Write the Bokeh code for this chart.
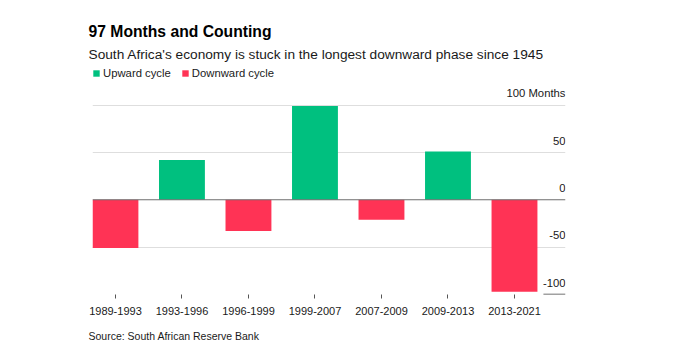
from bokeh.plotting import figure
from bokeh.models import Range1d, FixedTicker, Span, Legend, LegendItem, Title, ColumnDataSource
from bokeh.core.properties import value
from bokeh.embed import file_html
from bokeh.resources import INLINE

# ---- data ----
periods = ["1989-1993", "1993-1996", "1996-1999", "1999-2007", "2007-2009", "2009-2013", "2013-2021"]
months = [-51, 42, -33, 99, -21, 51, -97]
y_ticks = [-100, -50, 0, 50, 100]
y_tick_labels = ["-100", "-50", "0", "50", "100 Months"]

title_text = "97 Months and Counting"
subtitle_text = "South Africa's economy is stuck in the longest downward phase since 1945"
source_text = "Source: South African Reserve Bank"

# ---- style ----
GREEN = "#00c07f"
RED = "#ff3355"
FONT = "Liberation Sans"
TXT = "#1a1a1a"
BAR_W = 0.69
X_START = -BAR_W / 2
X_END = 6.767
Y_END = 139.6
LABEL_LIFT = 12.3   # data units the right-hand labels sit above their gridline

idx = list(range(len(periods)))
up_src = ColumnDataSource(dict(x=[i for i in idx if months[i] > 0],
                               top=[m for m in months if m > 0]))
down_src = ColumnDataSource(dict(x=[i for i in idx if months[i] < 0],
                                 top=[m for m in months if m < 0]))

p = figure(frame_width=473, frame_height=227,
           min_border_left=92, min_border_right=107, min_border_top=67, min_border_bottom=61,
           x_range=Range1d(X_START, X_END), y_range=Range1d(y_ticks[0], Y_END),
           output_backend="svg", toolbar_location=None, title=None)
p.outline_line_color = None
p.background_fill_color = "white"
p.border_fill_color = "white"

r_up = p.vbar(x="x", top="top", bottom=0, width=BAR_W, source=up_src,
              fill_color=GREEN, line_color=None)
r_down = p.vbar(x="x", top="top", bottom=0, width=BAR_W, source=down_src,
                fill_color=RED, line_color=None)

# grid
p.xgrid.visible = False
p.ygrid.ticker = FixedTicker(ticks=[t for t in y_ticks if t not in (0, -100)])
p.ygrid.grid_line_color = "#dedede"
p.ygrid.grid_line_width = 1
p.yaxis.visible = False

# zero line
p.add_layout(Span(location=0, dimension="width", line_color="#6e6e6e", line_width=1))
# short baseline segment at the bottom right
p.segment(x0=[idx[-1] + BAR_W / 2 + 0.09], x1=[X_END], y0=[y_ticks[0]], y1=[y_ticks[0]],
          line_color="#444444", line_width=1.5)

# right-side labels sitting above gridlines
p.text(x=[X_END] * len(y_ticks), y=[t + LABEL_LIFT for t in y_ticks], text=y_tick_labels,
       text_align="right", text_baseline="alphabetic",
       text_font=value(FONT), text_font_size="11.3px", text_color=TXT)

# x axis
p.xaxis.ticker = FixedTicker(ticks=idx)
p.xaxis.major_label_overrides = {i: lab for i, lab in zip(idx, periods)}
p.xaxis.axis_line_color = None
p.xaxis.minor_tick_line_color = None
p.xaxis.major_tick_in = 0
p.xaxis.major_tick_out = 4
p.xaxis.major_tick_line_color = "#555555"
p.xaxis.major_label_standoff = 8
p.xaxis.major_label_text_font = FONT
p.xaxis.major_label_text_font_size = "11px"
p.xaxis.major_label_text_color = TXT

# legend inside the top of the frame
legend = Legend(items=[LegendItem(label="Upward cycle", renderers=[r_up]),
                       LegendItem(label="Downward cycle", renderers=[r_down])],
                orientation="horizontal", location="top_left",
                margin=0, padding=0, spacing=10, glyph_width=8, glyph_height=8,
                label_height=8,
                label_standoff=3, label_text_font=FONT, label_text_font_size="11.3px",
                label_text_color=TXT, border_line_alpha=0, background_fill_alpha=0)
p.add_layout(legend)

p.add_layout(Title(text=subtitle_text, align="left", offset=-4, standoff=11,
                   text_font=FONT, text_font_size="13.7px", text_font_style="normal",
                   text_color=TXT), "above")
p.add_layout(Title(text=title_text, align="left", offset=-4, standoff=0,
                   text_font=FONT, text_font_size="15.7px", text_font_style="bold",
                   text_color="#000000"), "above")

p.add_layout(Title(text=source_text, align="left", offset=-4, standoff=20,
                   text_font=FONT, text_font_size="10.5px", text_font_style="normal",
                   text_color=TXT), "below")

open("out.html", "w").write(file_html(p, INLINE))
